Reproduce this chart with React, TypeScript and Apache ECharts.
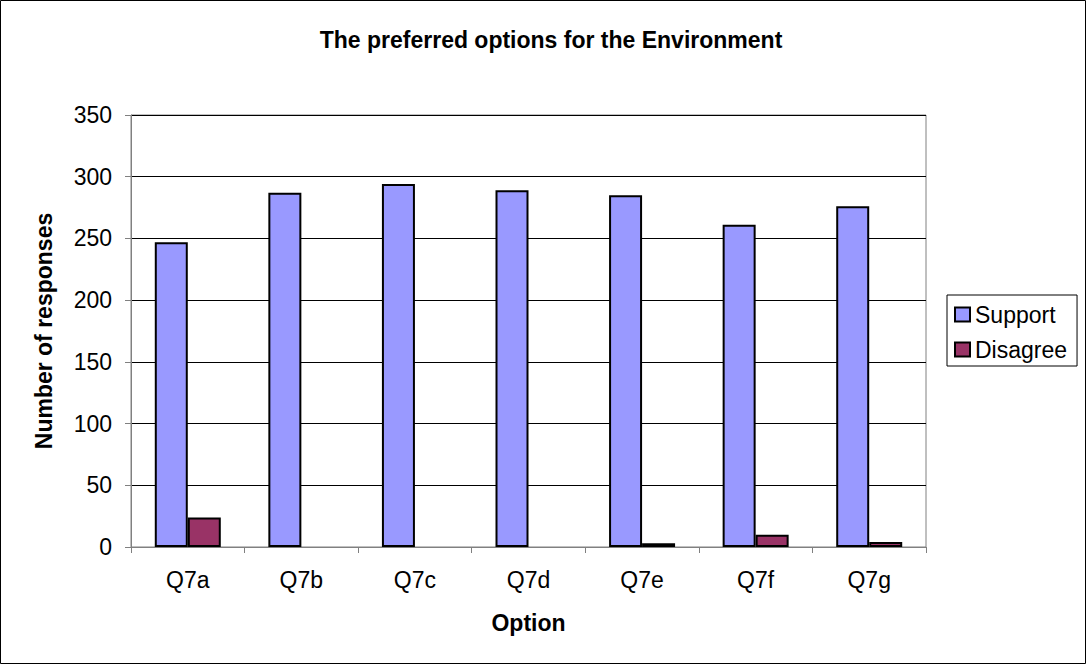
import React, { useEffect, useRef } from "react";
import * as echarts from "echarts";

const categories = ["Q7a", "Q7b", "Q7c", "Q7d", "Q7e", "Q7f", "Q7g"];
const supportValues = [247, 287, 294, 289, 285, 261, 276];
const disagreeValues = [24, 0, 0, 0, 3, 10, 4];
const seriesNames = ["Support", "Disagree"];

export default function App() {
  const ref = useRef<HTMLDivElement>(null);
  useEffect(() => {
    const chart = echarts.init(ref.current!, null, { renderer: "svg" });
    const font = "Liberation Sans, Arial, sans-serif";
    chart.setOption({
      animation: false,
      backgroundColor: "#ffffff",
      title: {
        text: "The preferred options for the Environment",
        left: 546,
        textAlign: "center",
        top: 23,
        textStyle: { fontFamily: font, fontSize: 23, fontWeight: "bold", color: "#000" },
      },
      legend: {
        orient: "vertical",
        left: 947,
        top: 295,
        padding: [7, 10, 4, 7],
        itemGap: 10,
        itemWidth: 15,
        itemHeight: 14,
        borderColor: "#000",
        borderWidth: 1,
        icon: "rect",
        textStyle: { fontFamily: font, fontSize: 23, color: "#000", lineHeight: 25 },
        data: seriesNames.map((n) => ({ name: n, itemStyle: { borderColor: "#000", borderWidth: 2 } })),
      },
      grid: { left: 131, right: 160, top: 115, bottom: 117, show: true, borderColor: "#808080", borderWidth: 1 },
      xAxis: {
        type: "category",
        data: categories,
        name: "Option",
        nameLocation: "middle",
        nameGap: 64,
        nameTextStyle: { fontFamily: font, fontSize: 23, fontWeight: "bold", color: "#000" },
        axisLine: { lineStyle: { color: "#808080", width: 1 } },
        axisTick: { show: true, length: 6, lineStyle: { color: "#808080" } },
        axisLabel: { fontFamily: font, fontSize: 23, color: "#000", margin: 21 },
      },
      yAxis: {
        type: "value",
        min: 0,
        max: 350,
        interval: 50,
        name: "Number of responses",
        nameLocation: "middle",
        nameGap: 76,
        nameTextStyle: { fontFamily: font, fontSize: 23, fontWeight: "bold", color: "#000" },
        axisLine: { show: true, lineStyle: { color: "#808080", width: 1 } },
        axisTick: { show: true, length: 6, lineStyle: { color: "#808080" } },
        axisLabel: { fontFamily: font, fontSize: 23, color: "#000", margin: 19 },
        splitLine: { show: true, lineStyle: { color: "#000", width: 1 } },
      },
      series: [
        {
          name: seriesNames[0],
          type: "bar",
          data: supportValues.map((v) => (v === 0 ? null : v)),
          barWidth: 33,
          barGap: "0%",
          itemStyle: { color: "#9999FF", borderColor: "#000", borderWidth: 2 },
        },
        {
          name: seriesNames[1],
          type: "bar",
          data: disagreeValues.map((v) => (v === 0 ? null : v)),
          barWidth: 33,
          barGap: "0%",
          itemStyle: { color: "#993366", borderColor: "#000", borderWidth: 2 },
        },
      ],
      graphic: [
        {
          type: "rect",
          shape: { x: 0.5, y: 0.5, width: 1085, height: 663 },
          style: { fill: "none", stroke: "#000", lineWidth: 1 },
          silent: true,
        },
      ],
    });
    return () => chart.dispose();
  }, []);
  return (
    <div
      ref={ref}
      style={{ position: "fixed", left: 0, top: 0, width: 1086, height: 664 }}
    />
  );
}
